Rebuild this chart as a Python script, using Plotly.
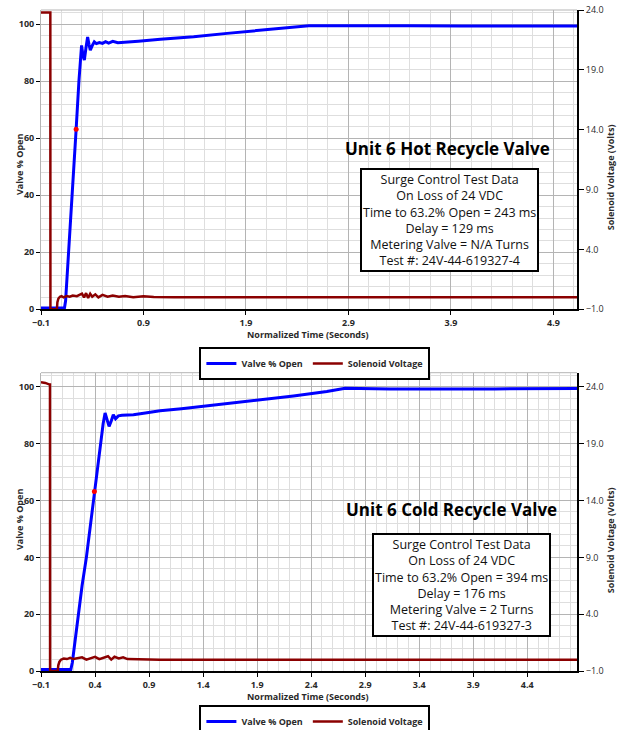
import plotly.graph_objects as go

# ---------------- data ----------------
# Top chart: Unit 6 Hot Recycle Valve
hot_valve_t = [-0.1, 0.0, 0.129, 0.14, 0.16, 0.20, 0.243, 0.27, 0.285, 0.296, 0.31, 0.323, 0.34, 0.355,
               0.368, 0.381, 0.40, 0.42, 0.44, 0.47, 0.50, 0.53, 0.56, 0.60, 0.65, 0.74, 0.85, 1.065,
               1.39, 1.716, 2.042, 2.367, 2.513, 2.7, 3.018, 3.5, 4.0, 4.5, 5.13]
hot_valve_v = [0.5, 0.5, 0.5, 3, 14, 38, 63.2, 80, 89, 92.6, 89, 87.4, 92, 95.5,
               93, 90.9, 92.5, 93.8, 93.2, 93.6, 93.3, 93.9, 93.4, 94.0, 93.5, 93.7, 94.0, 94.7,
               95.6, 96.8, 97.8, 98.9, 99.5, 99.5, 99.4, 99.5, 99.4, 99.5, 99.4]
hot_sol_t = [-0.1, -0.009, -0.008, 0.055, 0.06, 0.07, 0.085, 0.10, 0.12, 0.15, 0.18, 0.21, 0.25,
             0.28, 0.30, 0.32, 0.34, 0.36, 0.38, 0.40, 0.43, 0.46, 0.50, 0.55, 0.60, 0.66, 0.72,
             0.80, 0.90, 1.0, 1.2, 5.13]
hot_sol_v = [23.8, 23.8, -1.0, -1.0, -0.4, -0.1, 0.05, 0.1, 0.0, 0.1, 0.05, 0.15, 0.1,
             0.2, 0.3, 0.0, 0.35, -0.05, 0.3, 0.05, 0.25, 0.0, 0.2, 0.05, 0.15, 0.05, 0.1,
             0.0, 0.08, 0.02, 0.0, 0.0]
hot_mark_t = [0.243]
hot_mark_v = [63.2]

# Bottom chart: Unit 6 Cold Recycle Valve
cold_valve_t = [-0.1, 0.0, 0.176, 0.19, 0.21, 0.24, 0.28, 0.32, 0.36, 0.394, 0.42, 0.45, 0.475,
                0.493, 0.51, 0.53, 0.55, 0.569, 0.59, 0.616, 0.65, 0.70, 0.755, 0.85, 1.002, 1.2,
                1.434, 1.7, 1.928, 2.236, 2.545, 2.715, 3.13, 3.6, 4.1, 4.86]
cold_valve_v = [0.5, 0.5, 0.5, 3, 9, 20, 30, 40, 52, 63.2, 72, 80, 87,
                90.8, 88.5, 86.1, 88, 90.2, 88.8, 89.8, 90.0, 90.0, 90.2, 90.7, 91.6, 92.3,
                93.3, 94.3, 95.4, 96.8, 98.4, 99.5, 99.3, 99.4, 99.3, 99.4]
cold_sol_t = [-0.1, -0.06, -0.02, -0.017, -0.016, 0.055, 0.06, 0.07, 0.085, 0.11, 0.14, 0.17, 0.20,
              0.24, 0.28, 0.32, 0.36, 0.40, 0.44, 0.48, 0.52, 0.55, 0.58, 0.62, 0.66, 0.70, 0.80,
              1.0, 4.86]
cold_sol_v = [24.4, 24.35, 24.2, 24.2, -1.0, -1.0, -0.5, -0.2, 0.0, 0.1, 0.05, 0.15, 0.05,
              0.12, 0.2, 0.0, 0.15, 0.25, 0.05, 0.15, 0.3, 0.0, 0.25, 0.1, 0.2, 0.05, 0.02,
              0.0, 0.0]
cold_mark_t = [0.394]
cold_mark_v = [63.2]

hot_title = "Unit 6 Hot Recycle Valve"
hot_box = ["Surge Control Test Data", "On Loss of 24 VDC", "Time to 63.2% Open = 243 ms",
           "Delay = 129 ms", "Metering Valve = N/A Turns", "Test #: 24V-44-619327-4"]
cold_title = "Unit 6 Cold Recycle Valve"
cold_box = ["Surge Control Test Data", "On Loss of 24 VDC", "Time to 63.2% Open = 394 ms",
            "Delay = 176 ms", "Metering Valve = 2 Turns", "Test #: 24V-44-619327-3"]

BLUE = "#0000FF"
RED = "#8B0000"
FONT = "Open Sans"
TXT = "#2a2a2a"

fig = go.Figure()

# top chart traces
fig.add_trace(go.Scatter(x=hot_valve_t, y=hot_valve_v, mode="lines", name="Valve % Open",
                         line=dict(color=BLUE, width=3), xaxis="x", yaxis="y", legend="legend"))
fig.add_trace(go.Scatter(x=hot_sol_t, y=hot_sol_v, mode="lines", name="Solenoid Voltage",
                         line=dict(color=RED, width=2.5), xaxis="x", yaxis="y2", legend="legend"))
fig.add_trace(go.Scatter(x=hot_mark_t, y=hot_mark_v, mode="markers", showlegend=False,
                         marker=dict(color="#FF0000", size=5), xaxis="x", yaxis="y"))

# bottom chart traces
fig.add_trace(go.Scatter(x=cold_valve_t, y=cold_valve_v, mode="lines", name="Valve % Open",
                         line=dict(color=BLUE, width=3), xaxis="x2", yaxis="y3", legend="legend2"))
fig.add_trace(go.Scatter(x=cold_sol_t, y=cold_sol_v, mode="lines", name="Solenoid Voltage",
                         line=dict(color=RED, width=2.5), xaxis="x2", yaxis="y4", legend="legend2"))
fig.add_trace(go.Scatter(x=cold_mark_t, y=cold_mark_v, mode="markers", showlegend=False,
                         marker=dict(color="#FF0000", size=5), xaxis="x2", yaxis="y3"))

tickfont = dict(family=FONT, size=9, color=TXT, weight="bold")
MAJ = "#b4b4b4"
MIN = "#dedede"

def xax(rng, dtick, minor, anchor):
    return dict(range=rng, tick0=-0.1, dtick=dtick, tickformat=".1f", showgrid=True,
                gridcolor=MAJ, gridwidth=1, zeroline=False, showline=True, linecolor="black",
                linewidth=2, ticks="outside", ticklen=4, tickcolor="black", tickfont=tickfont,
                minor=dict(tick0=-0.1, dtick=minor, showgrid=True, gridcolor=MIN, gridwidth=1),
                anchor=anchor, domain=[0, 1])

def yleft(domain, anchor):
    return dict(range=[0, 105], dtick=20, showgrid=True, gridcolor=MAJ, zeroline=False,
                showline=True, linecolor="#b4b4b4", linewidth=1, ticks="outside", ticklen=4,
                tickcolor="black", tickfont=tickfont,
                minor=dict(dtick=4, showgrid=True, gridcolor=MIN),
                domain=domain, anchor=anchor)

def yright(rng, overlay, anchor):
    return dict(range=rng, tick0=-1, dtick=5, tickformat=".1f", showgrid=False, zeroline=False,
                showline=True, linecolor="black", linewidth=2, ticks="outside", ticklen=5,
                tickcolor="black", tickfont=dict(family=FONT, size=9, color=TXT),
                overlaying=overlay, side="right", anchor=anchor)

top_dom = [0.5472, 1.0]
bot_dom = [0.0, 0.4513]

legend_common = dict(orientation="h", bordercolor="black", borderwidth=2, bgcolor="white",
                     font=dict(family=FONT, size=9, color=TXT, weight="bold"),
                     xanchor="center", yanchor="top", itemwidth=30, tracegroupgap=0)

annotations = []
def ann(text, x, y, size=9, angle=0, bold=True, color=TXT):
    annotations.append(dict(text=text, x=x, y=y, xref="paper", yref="paper", showarrow=False,
                            textangle=angle, xanchor="center", yanchor="middle",
                            font=dict(family=FONT, size=size, color=color,
                                      weight="bold" if bold else "normal")))

# axis titles
ann("Normalized Time (Seconds)", 0.498, 0.5098)
ann("Normalized Time (Seconds)", 0.498, -0.0389)
ann("Valve % Open", -0.041, 0.7655, angle=-90)
ann("Valve % Open", -0.041, 0.2284, angle=-90)
ann("Solenoid Voltage (Volts)", 1.0616, 0.747, angle=-90)
ann("Solenoid Voltage (Volts)", 1.0616, 0.198, angle=-90)

# chart titles
ann(hot_title, 0.759, 0.79, size=17, color="black")
ann(cold_title, 0.766, 0.2436, size=17, color="black")

# info boxes
for lines, x, y in [(hot_box, 0.763, 0.682), (cold_box, 0.784, 0.1298)]:
    annotations.append(dict(text="<br>".join(lines), x=x, y=y, xref="paper", yref="paper",
                            showarrow=False, xanchor="center", yanchor="middle", align="center",
                            bgcolor="white", bordercolor="black", borderwidth=2, borderpad=1,
                            font=dict(family=FONT, size=12.5, color="#111111")))

shapes = []
for dom in (top_dom, bot_dom):
    shapes.append(dict(type="line", xref="paper", yref="paper", x0=0, x1=1, y0=dom[1], y1=dom[1],
                       line=dict(color="#b4b4b4", width=1)))

fig.update_layout(
    width=621, height=730,
    margin=dict(l=41, r=44, t=10, b=59, autoexpand=False),
    paper_bgcolor="white", plot_bgcolor="white",
    xaxis=xax([-0.1, 5.13], 1.0, 0.2, "y"),
    yaxis=yleft(top_dom, "x"),
    yaxis2=yright([-1, 24], "y", "x"),
    xaxis2=xax([-0.1, 4.86], 0.5, 0.1, "y3"),
    yaxis3=yleft(bot_dom, "x2"),
    yaxis4=yright([-1, 25.25], "y3", "x2"),
    legend=dict(x=0.511, y=0.490, **legend_common),
    legend2=dict(x=0.511, y=-0.0514, **legend_common),
    annotations=annotations,
    shapes=shapes,
    hovermode=False,
)

fig.write_html("out.html")
